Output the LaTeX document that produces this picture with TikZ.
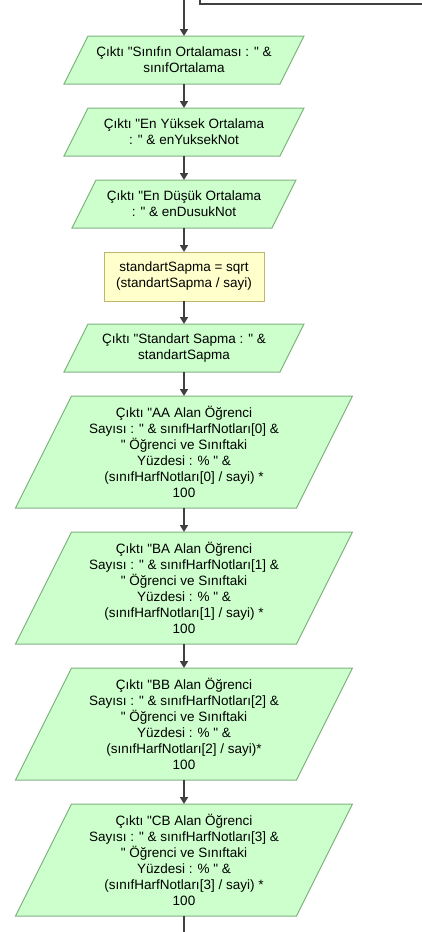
\documentclass[tikz,border=0pt]{standalone}
\usepackage{fontspec}
\setmainfont{Liberation Sans}[Ligatures=TeXOff]
\usetikzlibrary{arrows.meta,backgrounds,calc}
\definecolor{outfill}{HTML}{CCFFCC}
\definecolor{outline}{HTML}{80B280}
\definecolor{procfill}{HTML}{FFFFCC}
\definecolor{procline}{HTML}{C0B470}
\definecolor{flowgray}{HTML}{404040}

\tikzset{
	txt/.style={align=center, inner sep=0pt, outer sep=0pt, font=\fontsize{13.5}{16}\selectfont},
	flow/.style={draw=flowgray, line width=2pt, -{Triangle[length=7pt,width=8pt]}},
	wire/.style={draw=flowgray, line width=2pt},
}

\begin{document}
\begin{tikzpicture}[x=1pt, y=-1pt]
	\useasboundingbox (0,0) rectangle (422,932);
	\coordinate (top) at (184,0);
	\coordinate (bottom) at (184,932);
	\coordinate (loopin) at (200,0);
	\coordinate (loopout) at (422,4);
	\node[txt, minimum width=216, minimum height=48] (out1) at (184,60) {Çıktı "Sınıfın Ortalaması : " \&\\sınıfOrtalama};
	\node[txt, minimum width=216, minimum height=48] (out2) at (184,132) {Çıktı "En Yüksek Ortalama\\: " \& enYuksekNot};
	\node[txt, minimum width=200, minimum height=48] (out3) at (184,204) {Çıktı "En Düşük Ortalama\\: " \& enDusukNot};
	\node[txt, minimum width=160, minimum height=49] (calc) at (184,276.5) {standartSapma = sqrt\\(standartSapma / sayi)};
	\node[txt, minimum width=216, minimum height=48] (out4) at (184,348) {Çıktı "Standart Sapma : " \&\\standartSapma};
	\node[txt, minimum width=281, minimum height=112] (aa) at (184,452) {Çıktı "AA Alan Öğrenci\\Sayısı : " \& sınıfHarfNotları[0] \&\\" Öğrenci ve Sınıftaki\\Yüzdesi : \% " \&\\(sınıfHarfNotları[0] / sayi) *\\100};
	\node[txt, minimum width=281, minimum height=112] (ba) at (184,588) {Çıktı "BA Alan Öğrenci\\Sayısı : " \& sınıfHarfNotları[1] \&\\" Öğrenci ve Sınıftaki\\Yüzdesi : \% " \&\\(sınıfHarfNotları[1] / sayi) *\\100};
	\node[txt, minimum width=281, minimum height=112] (bb) at (184,724) {Çıktı "BB Alan Öğrenci\\Sayısı : " \& sınıfHarfNotları[2] \&\\" Öğrenci ve Sınıftaki\\Yüzdesi : \% " \&\\(sınıfHarfNotları[2] / sayi)*\\100};
	\node[txt, minimum width=281, minimum height=112] (cb) at (184,860) {Çıktı "CB Alan Öğrenci\\Sayısı : " \& sınıfHarfNotları[3] \&\\" Öğrenci ve Sınıftaki\\Yüzdesi : \% " \&\\(sınıfHarfNotları[3] / sayi) *\\100};
	\begin{scope}[on background layer]
		\foreach \b in {out1,out2,out3,out4,aa,ba,bb,cb} {
			\draw[fill=outfill, draw=outline, line width=1pt] let \p1=(\b.north west), \p2=(\b.south east), \n1={(\y1-\y2)/4} in
				(\x1+\n1,\y1) -- (\x2+\n1,\y1) -- (\x2-\n1,\y2) -- (\x1-\n1,\y2) -- cycle;
		}
		\draw[fill=procfill, draw=procline, line width=1pt] (calc.north west) rectangle (calc.south east);
	\end{scope}
	\draw[flow] (top) -- (out1.north);
	\foreach \a/\b in {out1/out2, out2/out3, out3/calc, calc/out4, out4/aa, aa/ba, ba/bb, bb/cb}
		\draw[flow] (\a.south) -- (\b.north);
	\draw[wire] (cb.south) -- (bottom);
	\draw[wire] (loopin) |- (loopout);
\end{tikzpicture}
\end{document}
